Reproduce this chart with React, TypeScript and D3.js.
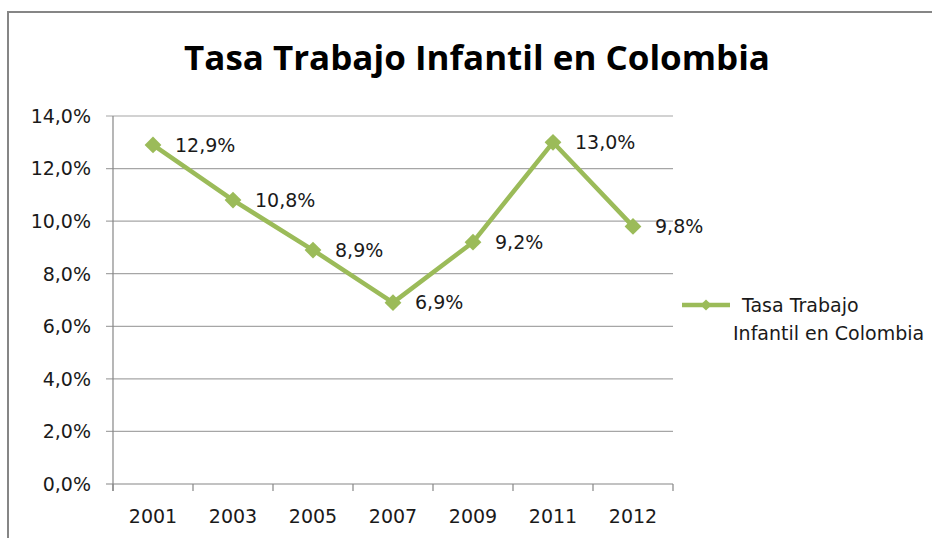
import React from "react";
import * as d3 from "d3";

const title = "Tasa Trabajo Infantil en Colombia";
const years = ["2001", "2003", "2005", "2007", "2009", "2011", "2012"];
const rates = [12.9, 10.8, 8.9, 6.9, 9.2, 13.0, 9.8];
const yTicks = [0, 2, 4, 6, 8, 10, 12, 14];
const legendLines = ["Tasa Trabajo", "Infantil en Colombia"];

const W = 932;
const H = 538;
const M = { left: 113, right: 673, top: 116, bottom: 484 };
const GREEN = "#9BBB59";
const FONT = "'DejaVu Sans', 'Open Sans', sans-serif";
const TITLE_FONT = "'Open Sans', 'Noto Sans', sans-serif";
const FS = 19;

const fmt = (v: number) => v.toFixed(1).replace(".", ",") + "%";

export default function App() {
  const x = d3.scaleBand<string>().domain(years).range([M.left, M.right]).padding(0);
  const y = d3.scaleLinear().domain([0, 14]).range([M.bottom, M.top]);
  const cx = (yr: string) => (x(yr) as number) + x.bandwidth() / 2;
  const pts = years.map((yr, i) => [cx(yr), y(rates[i])] as [number, number]);
  const line = d3.line()(pts) || "";
  const diamond = d3.symbol().type(d3.symbolDiamond2).size(180)() || "";
  const diamondSmall = d3.symbol().type(d3.symbolDiamond2).size(80)() || "";
  const bounds = [...years.map((yr) => x(yr) as number), M.right];

  return (
    <svg
      width={W}
      height={H}
      style={{ position: "absolute", left: 0, top: 0, background: "#fff" }}
      fontFamily={FONT}
    >
      <rect x={0} y={0} width={W} height={H} fill="#fff" />
      <rect x={8} y={12} width={W + 20} height={H + 20} fill="none" stroke="#868686" strokeWidth={2} />
      <text
        x={477}
        y={70}
        textAnchor="middle"
        fontFamily={TITLE_FONT}
        fontSize={34}
        fontWeight="bold"
        fill="#000"
        textLength={586}
        lengthAdjust="spacingAndGlyphs"
      >
        {title}
      </text>
      {yTicks.map((t) => (
        <g key={t}>
          <line
            x1={M.left - 7}
            x2={M.right}
            y1={y(t)}
            y2={y(t)}
            stroke={t === 0 ? "#868686" : "#a6a6a6"}
            strokeWidth={1.2}
          />
          <text x={91} y={y(t)} dy="0.36em" textAnchor="end" fontSize={FS} fill="#1a1a1a">
            {fmt(t)}
          </text>
        </g>
      ))}
      <line x1={M.left} x2={M.left} y1={M.top} y2={M.bottom + 7} stroke="#868686" strokeWidth={1.2} />
      {bounds.map((b, i) => (
        <line key={i} x1={b} x2={b} y1={M.bottom} y2={M.bottom + 7} stroke="#868686" strokeWidth={1.2} />
      ))}
      {years.map((yr) => (
        <text key={yr} x={cx(yr)} y={523} textAnchor="middle" fontSize={FS} fill="#1a1a1a">
          {yr}
        </text>
      ))}
      <path d={line} fill="none" stroke={GREEN} strokeWidth={4.5} strokeLinejoin="round" />
      {pts.map((p, i) => (
        <g key={i}>
          <path d={diamond} transform={`translate(${p[0]},${p[1]})`} fill={GREEN} />
          <text x={p[0] + 22} y={p[1]} dy="0.36em" fontSize={FS} fill="#1a1a1a">
            {fmt(rates[i])}
          </text>
        </g>
      ))}
      <line x1={682} x2={730} y1={305} y2={305} stroke={GREEN} strokeWidth={4.5} />
      <path d={diamondSmall} transform="translate(706,305)" fill={GREEN} />
      <text x={742} y={312} fontSize={FS} fill="#1a1a1a">
        {legendLines[0]}
      </text>
      <text x={733} y={340} fontSize={FS} fill="#1a1a1a">
        {legendLines[1]}
      </text>
    </svg>
  );
}
